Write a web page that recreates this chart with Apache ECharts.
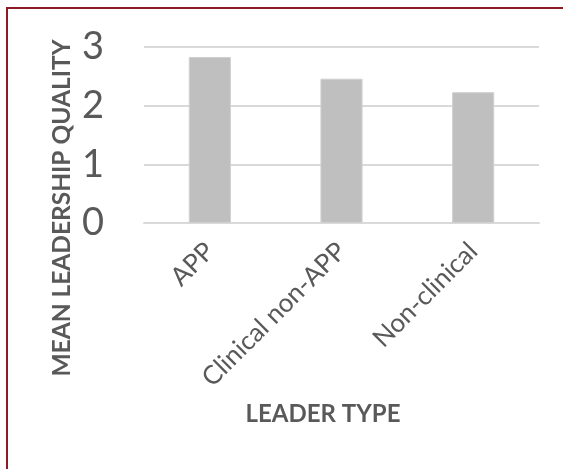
<!DOCTYPE html>
<html>
<head>
<meta charset="utf-8">
<script src="https://cdn.jsdelivr.net/npm/echarts@6/dist/echarts.min.js"></script>
<style>
  html, body { margin: 0; padding: 0; background: #fff; }
  #frame {
    position: absolute; left: 6px; top: 7px; width: 600px; height: 500px;
    border-left: 2px solid #8c1b26; border-top: 2px solid #8c1b26;
  }
  #chart { position: absolute; left: 0; top: 0; width: 563px; height: 469px; }
</style>
</head>
<body>
<div id="frame"></div>
<div id="chart"></div>
<script>
// leader types on the x axis
const categories = ['APP', 'Clinical non-APP', 'Non-clinical'];
// mean leadership quality per type
const meanQuality = [2.83, 2.46, 2.23];
const yTicks = [0, 1, 2, 3];

const chart = echarts.init(document.getElementById('chart'));
const font = 'Lato, "Open Sans", sans-serif';

const option = {
  animation: false,
  backgroundColor: 'transparent',
  grid: { left: 144, right: 24, top: 47, bottom: 246 },
  title: [
    {
      text: 'LEADER TYPE',
      left: 318, top: 397, textAlign: 'center',
      textStyle: { color: '#595959', fontFamily: font, fontWeight: 'bold', fontSize: 24 }
    }
  ],
  graphic: [
    {
      type: 'text', rotation: Math.PI / 2, x: 62, y: 208,
      style: {
        text: 'MEAN LEADERSHIP QUALITY', fill: '#595959',
        font: 'bold 24.5px ' + font, align: 'center', verticalAlign: 'middle'
      }
    }
  ],
  xAxis: {
    type: 'category',
    data: categories,
    axisLine: { show: true, lineStyle: { color: '#d9d9d9', width: 2 } },
    axisTick: { show: false },
    axisLabel: { rotate: 45, margin: 24, color: '#595959', fontFamily: font, fontSize: 26, interval: 0 }
  },
  yAxis: {
    type: 'value',
    min: yTicks[0], max: yTicks[yTicks.length - 1], interval: 1,
    axisLine: { show: false },
    axisTick: { show: false },
    splitLine: { lineStyle: { color: '#d9d9d9', width: 2 } },
    axisLabel: { margin: 40, color: '#595959', fontFamily: font, fontSize: 38 }
  },
  series: [{
    type: 'bar',
    data: meanQuality,
    barWidth: '32%',
    itemStyle: { color: '#bfbfbf', borderColor: '#d0d0d0', borderWidth: 1 }
  }]
};
chart.setOption(option);
</script>
</body>
</html>
